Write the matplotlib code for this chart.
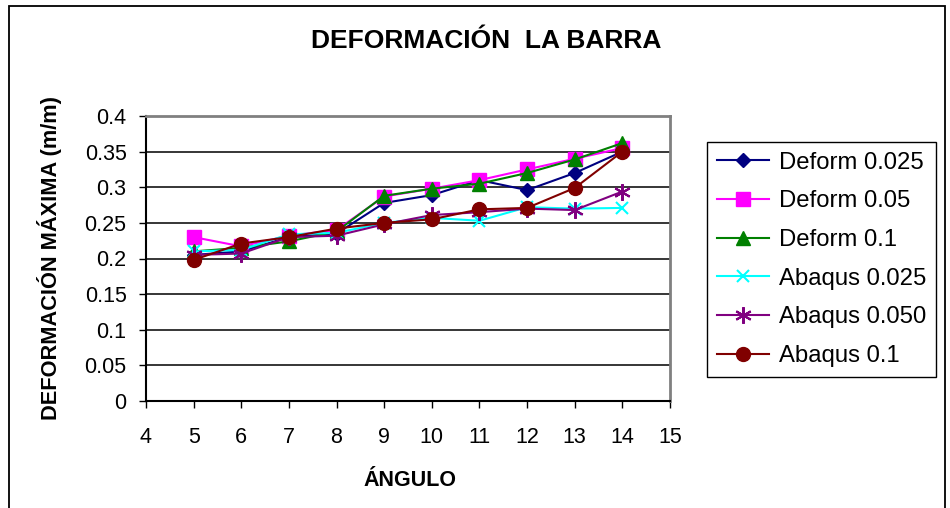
import matplotlib
matplotlib.use('Agg')
import matplotlib.pyplot as plt
from matplotlib.patches import Rectangle

plt.rcParams['font.family'] = ['Liberation Sans', 'DejaVu Sans']

# data
angulo = [5, 6, 7, 8, 9, 10, 11, 12, 13, 14]
deform_0025 = [0.205, 0.21, 0.23, 0.235, 0.278, 0.289, 0.310, 0.296, 0.320, 0.350]
deform_005 = [0.230, 0.217, 0.232, 0.240, 0.287, 0.298, 0.310, 0.325, 0.340, 0.355]
deform_01 = [0.210, 0.215, 0.224, 0.238, 0.288, 0.298, 0.305, 0.320, 0.339, 0.362]
abaqus_0025 = [0.210, 0.212, 0.234, 0.236, 0.250, 0.257, 0.253, 0.272, 0.270, 0.271]
abaqus_0050 = [0.205, 0.207, 0.230, 0.232, 0.248, 0.261, 0.265, 0.270, 0.268, 0.294]
abaqus_01 = [0.198, 0.221, 0.230, 0.242, 0.250, 0.255, 0.269, 0.271, 0.299, 0.350]

series = [
    ('Deform 0.025', deform_0025, '#000080', 'D', 7),
    ('Deform 0.05', deform_005, '#ff00ff', 's', 9.5),
    ('Deform 0.1', deform_01, '#008000', '^', 10),
    ('Abaqus 0.025', abaqus_0025, '#00ffff', 'x', 9),
    ('Abaqus 0.050', abaqus_0050, '#800080', (6, 2, 0), 12),
    ('Abaqus 0.1', abaqus_01, '#800000', 'o', 10),
]

W, H = 950, 508
fig = plt.figure(figsize=(9.5, 5.08), dpi=100)
# outer chart border (bottom edge runs off the canvas, as in the original)
fig.patches.append(Rectangle((9 / W, -5 / H), 936 / W, (H - 1) / H, transform=fig.transFigure,
                             fill=False, edgecolor='black', linewidth=1.3))

ax = fig.add_axes([146 / W, 1 - 401 / H, 524 / W, 285 / H])
for name, vals, color, marker, ms in series:
    ax.plot(angulo, vals, color=color, marker=marker, markersize=ms, linewidth=1.5,
            markeredgewidth=1.5 if marker in ('x', (6, 2, 0)) else 1,
            markeredgecolor=color, label=name)

ax.set_xlim(4, 15)
ax.set_ylim(0, 0.4)
ax.set_xticks(range(4, 16))
ax.set_yticks([0, 0.05, 0.1, 0.15, 0.2, 0.25, 0.3, 0.35, 0.4])
ax.set_yticklabels(['0', '0.05', '0.1', '0.15', '0.2', '0.25', '0.3', '0.35', '0.4'])
ax.tick_params(labelsize=15.5, direction='out', length=5, width=1, color='black')
ax.tick_params(axis='x', pad=14)
ax.tick_params(axis='y', pad=9)
ax.grid(axis='y', color='black', linewidth=1.1)
ax.set_axisbelow(True)
ax.spines['top'].set_color('#808080')
ax.spines['right'].set_color('#808080')
ax.spines['top'].set_linewidth(2)
ax.spines['right'].set_linewidth(2)
ax.spines['left'].set_linewidth(1.5)
ax.spines['bottom'].set_linewidth(1.5)

fig.text(486 / W, 1 - 41 / H, 'DEFORMACIÓN  LA BARRA', fontsize=19, fontweight='bold',
         ha='center', va='center')
fig.text(410 / W, 1 - 481 / H, 'ÁNGULO', fontsize=15.5, fontweight='bold',
         ha='center', va='center')
fig.text(50 / W, 1 - 258 / H, 'DEFORMACIÓN MÁXIMA (m/m)', fontsize=15.7, fontweight='bold',
         ha='center', va='center', rotation=90)

leg = ax.legend(loc='upper left', bbox_to_anchor=((707 - 146) / 524, (401 - 142) / 285),
                borderaxespad=0, fontsize=17.2, frameon=True, fancybox=False,
                edgecolor='black', framealpha=1, handlelength=2.2, handletextpad=0.4,
                labelspacing=0.7, borderpad=0.4)
leg.get_frame().set_linewidth(1)

fig.savefig('out.png', dpi=100)
